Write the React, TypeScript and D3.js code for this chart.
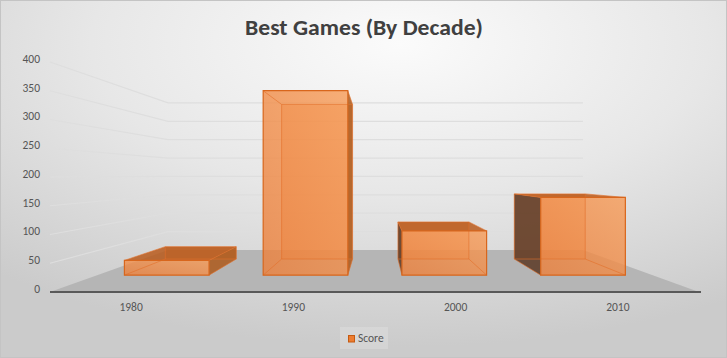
import React from "react";
import * as d3 from "d3";

const title = "Best Games (By Decade)";
const seriesName = "Score";
const categories = ["1980", "1990", "2000", "2010"];
const scores = [30, 375, 90, 158];
const yTicks = [0, 50, 100, 150, 200, 250, 300, 350, 400];

const W = 727;
const H = 358;
const FONT = "Carlito, Calibri, Lato, 'Open Sans', sans-serif";

// perspective setup
const VX = 377.2;
const VY = 175.5;
const K = 0.564;
const D0 = 0.3;
const D1 = 0.7;

const xBand = d3.scaleBand<string>().domain(categories).range([50, 699]).padding(0);
const yScale = d3.scaleLinear().domain([0, 400]).range([292, 62]);
const sDepth = (d: number) => 1 / (1 + K * d);

function project(X: number, v: number, d: number): [number, number] {
  const s = sDepth(d);
  return [VX + (X - VX) * s, VY + (yScale(v) - VY) * s];
}

const poly = (pts: [number, number][]) => "M" + pts.map((p) => p[0].toFixed(2) + "," + p[1].toFixed(2)).join("L") + "Z";

export default function App() {
  const bw = xBand.bandwidth() * 0.61;
  const floor = [project(50, 0, 0), project(699, 0, 0), project(699, 0, 1), project(50, 0, 1)] as [number, number][];

  const bars = categories.map((c, i) => {
    const cx = (xBand(c) as number) + xBand.bandwidth() / 2;
    const x0 = cx - bw / 2;
    const x1 = cx + bw / 2;
    const v = scores[i];
    const fTL = project(x0, v, D0), fTR = project(x1, v, D0), fBR = project(x1, 0, D0), fBL = project(x0, 0, D0);
    const bTL = project(x0, v, D1), bTR = project(x1, v, D1), bBR = project(x1, 0, D1), bBL = project(x0, 0, D1);
    const leftVisible = bTL[0] < fTL[0];
    const rightVisible = bTR[0] > fTR[0];
    const topVisible = bTL[1] < fTL[1];
    const edges: [[number, number], [number, number]][] = [
      [bTL, bTR], [bTR, bBR], [bBR, bBL], [bBL, bTL],
      [fTL, bTL], [fTR, bTR], [fBR, bBR], [fBL, bBL],
    ];
    return (
      <g key={c}>
        <path d={poly([bTL, bTR, bBR, bBL])} fill="#ED7D31" fillOpacity={0.45} />
        {leftVisible && <path d={poly([bTL, fTL, fBL, bBL])} fill="#5A3824" fillOpacity={0.85} />}
        {rightVisible && <path d={poly([fTR, bTR, bBR, fBR])} fill="#AD591B" fillOpacity={0.85} />}
        {topVisible && <path d={poly([bTL, bTR, fTR, fTL])} fill="#B85A1C" fillOpacity={0.85} />}
        <path d={poly([fTL, fTR, fBR, fBL])} fill="url(#frontGrad)" fillOpacity={0.8} />
        {edges.map((e, j) => (
          <line key={j} x1={e[0][0]} y1={e[0][1]} x2={e[1][0]} y2={e[1][1]} stroke="#E2702A" strokeOpacity={0.6} strokeWidth={1} />
        ))}
        <path d={poly([fTL, fTR, fBR, fBL])} fill="none" stroke="#D8661C" strokeWidth={1.2} />
      </g>
    );
  });

  return (
    <svg width={W} height={H} style={{ position: "absolute", left: 0, top: 0, display: "block" }}>
      <defs>
        <radialGradient id="bgGrad" cx="0.55" cy="0.12" r="0.85">
          <stop offset="0" stopColor="#fbfbfb" />
          <stop offset="0.5" stopColor="#e7e7e7" />
          <stop offset="1" stopColor="#cbcbcb" />
        </radialGradient>
        <linearGradient id="frontGrad" x1="1" y1="0" x2="0" y2="1">
          <stop offset="0" stopColor="#F79C58" />
          <stop offset="1" stopColor="#EC7F3A" />
        </linearGradient>
      </defs>
      <rect x={0.5} y={0.5} width={W - 1} height={H - 1} fill="url(#bgGrad)" stroke="#c4c4c4" />

      {yTicks.filter((t) => t > 0).map((t) => {
        const a = project(50, t, 0);
        const b = project(50, t, 1);
        const c = project(699, t, 1);
        return (
          <path key={t} d={`M${a[0]},${a[1]}L${b[0]},${b[1]}L${c[0]},${c[1]}`} fill="none" stroke="#dedede" strokeWidth={1.2} />
        );
      })}

      <path d={poly(floor)} fill="#b5b5b5" />
      <line x1={50} y1={292} x2={701} y2={292} stroke="#595959" strokeWidth={2} />

      {bars}

      {yTicks.map((t) => (
        <text key={t} x={40} y={yScale(t) - 2} textAnchor="end" dominantBaseline="middle" fontFamily={FONT} fontSize={11.5} fill="#555555">
          {t}
        </text>
      ))}

      {categories.map((c) => (
        <text key={c} x={(xBand(c) as number) + xBand.bandwidth() / 2} y={311} textAnchor="middle" fontFamily={FONT} fontSize={11.5} fill="#555555">
          {c}
        </text>
      ))}

      <text x={364} y={35} textAnchor="middle" fontFamily={FONT} fontWeight="bold" fontSize={22} fill="#404040" textLength={238} lengthAdjust="spacingAndGlyphs">
        {title}
      </text>

      <rect x={340} y={327} width={48} height={22} fill="#ffffff" fillOpacity={0.18} />
      <rect x={348.5} y={335.5} width={6} height={6.5} fill="#ED7D31" stroke="#C55A11" strokeWidth={1} />
      <text x={358} y={342} fontFamily={FONT} fontSize={11.5} fill="#555555">
        {seriesName}
      </text>
    </svg>
  );
}
